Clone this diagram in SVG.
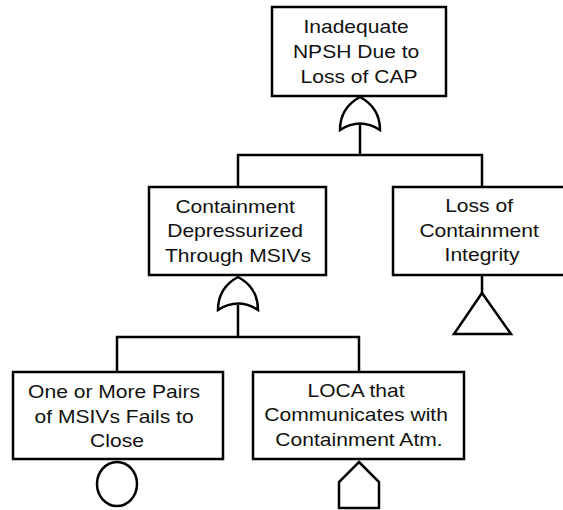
<svg xmlns="http://www.w3.org/2000/svg" width="563" height="510" viewBox="0 0 563 510">
  <style>
    .box { fill: #ffffff; stroke: #000000; stroke-width: 2.5; }
    .sym { fill: #ffffff; stroke: #000000; stroke-width: 2.5; stroke-linejoin: miter; }
    .wire { fill: none; stroke: #000000; stroke-width: 2.5; }
    .lbl { font-family: "Liberation Sans", Arial, sans-serif; font-size: 18px; fill: #111111; text-anchor: middle; }
  </style>
  <rect width="563" height="510" fill="#ffffff"/>

  <!-- connectors -->
  <g id="connectors">
    <path class="wire" d="M360,124 V155"/>
    <path class="wire" d="M238,187 V155 H482 V187"/>
    <path class="wire" d="M238,305 V337"/>
    <path class="wire" d="M117,372 V337 H359 V372"/>
    <path class="wire" d="M482,275 V293"/>
  </g>

  <!-- top event -->
  <g id="top-event">
    <rect class="box" x="272" y="7" width="174" height="89"/>
    <text class="lbl" transform="translate(359,0) scale(1.17,1)">
      <tspan x="0" y="33">Inadequate</tspan>
      <tspan x="0" y="58">NPSH Due to</tspan>
      <tspan x="0" y="83">Loss of CAP</tspan>
    </text>
    <path class="sym" d="M340,130 C340,115 347,104 360,97 C373,104 380,115 380,130 Q360,117 340,130 Z"/>
  </g>

  <!-- intermediate event -->
  <g id="containment-depressurized">
    <rect class="box" x="149" y="187" width="177" height="88"/>
    <text class="lbl" transform="translate(238,0) scale(1.17,1)">
      <tspan x="0" y="213">Containment</tspan>
      <tspan x="0" y="237.5">Depressurized</tspan>
      <tspan x="0" y="262">Through MSIVs</tspan>
    </text>
    <path class="sym" d="M218,310 C218,295 225,284 238,277 C251,284 258,295 258,310 Q238,297 218,310 Z"/>
  </g>

  <!-- undeveloped / transfer event -->
  <g id="loss-of-integrity">
    <rect class="box" x="393" y="187" width="178" height="88"/>
    <text class="lbl" transform="translate(482,0) scale(1.17,1)">
      <tspan x="0" y="212.5">Loss of</tspan>
      <tspan x="0" y="237">Containment</tspan>
      <tspan x="0" y="261.5">Integrity</tspan>
    </text>
    <path class="sym" d="M482,293 L511,334 H454 Z"/>
  </g>

  <!-- basic event -->
  <g id="msiv-fail">
    <rect class="box" x="13" y="372" width="210" height="87"/>
    <text class="lbl" transform="translate(117,0) scale(1.17,1)">
      <tspan x="0" y="398.5">One or More Pairs</tspan>
      <tspan x="0" y="423">of MSIVs Fails to</tspan>
      <tspan x="0" y="447.5">Close</tspan>
    </text>
    <ellipse class="sym" cx="117" cy="484" rx="20" ry="22"/>
  </g>

  <!-- house event -->
  <g id="loca">
    <rect class="box" x="253" y="372" width="211" height="87"/>
    <text class="lbl" transform="translate(359,0) scale(1.17,1)">
      <tspan x="0" y="397">LOCA that</tspan>
      <tspan x="0" y="421.5">Communicates with</tspan>
      <tspan x="0" y="446.5">Containment Atm.</tspan>
    </text>
    <path class="sym" d="M359,462 L379,482 V508 H339 V482 Z"/>
  </g>
</svg>
